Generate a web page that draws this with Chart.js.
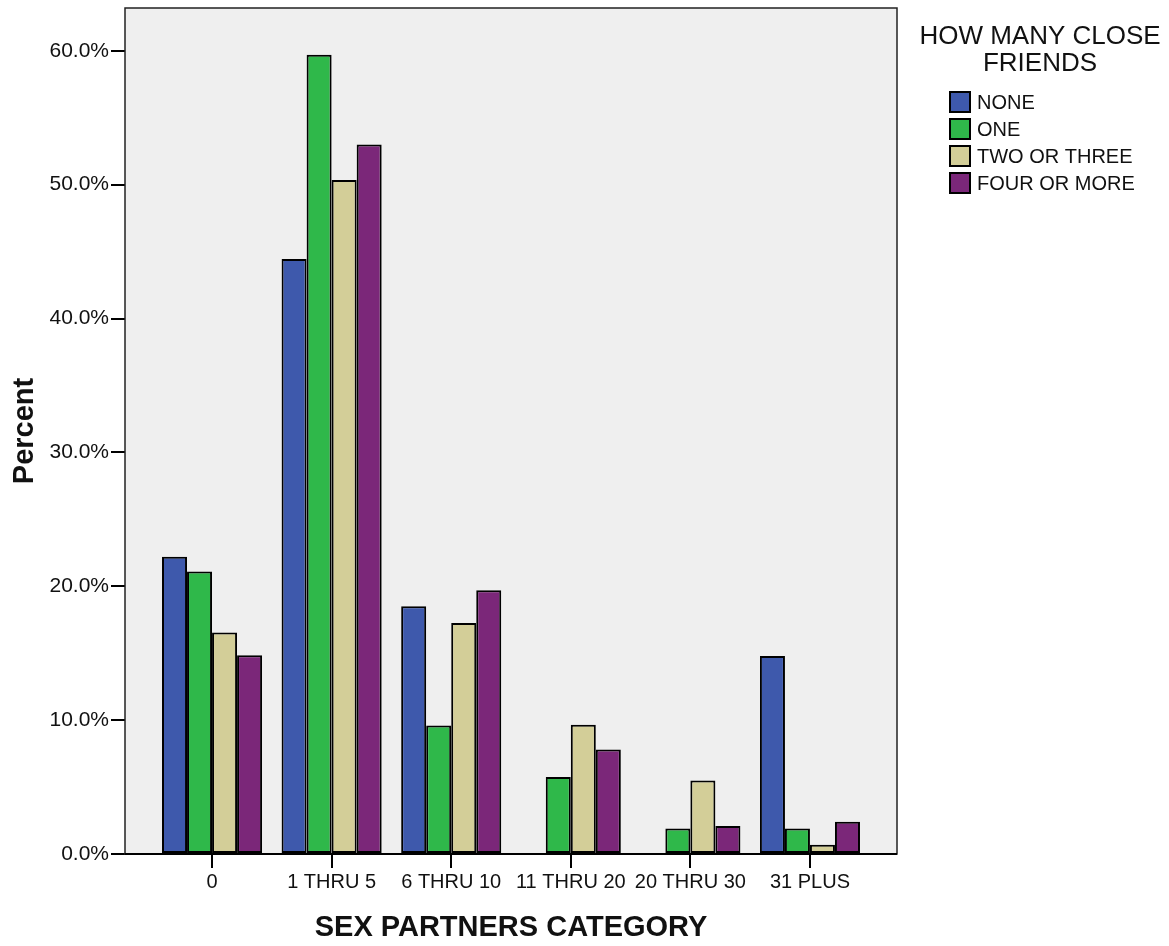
<!DOCTYPE html>
<html>
<head>
<meta charset="utf-8">
<script src="https://cdn.jsdelivr.net/npm/chart.js@4/dist/chart.umd.min.js"></script>
<style>
  html, body { margin: 0; padding: 0; background: #ffffff; }
  #wrap { width: 1169px; height: 946px; position: relative; }
</style>
</head>
<body>
<div id="wrap"><canvas id="c" width="1169" height="946"></canvas></div>
<script>
// ---- data ----
const categories = ['0', '1 THRU 5', '6 THRU 10', '11 THRU 20', '20 THRU 30', '31 PLUS'];
const seriesNames = ['NONE', 'ONE', 'TWO OR THREE', 'FOUR OR MORE'];
const noneValues = [22.2, 44.45, 18.5, 0, 0, 14.8];
const oneValues = [21.1, 59.7, 9.6, 5.75, 1.9, 1.9];
const twoThreeValues = [16.55, 50.35, 17.25, 9.65, 5.5, 0.7];
const fourMoreValues = [14.85, 53.0, 19.7, 7.8, 2.1, 2.4];
const yTickValues = [0, 10, 20, 30, 40, 50, 60];
const legendTitle = ['HOW MANY CLOSE', 'FRIENDS'];
const xTitle = 'SEX PARTNERS CATEGORY';
const yTitle = 'Percent';

const colors = ['#3E59AC', '#2FB84A', '#D3CE98', '#7B2779'];
const allValues = [noneValues, oneValues, twoThreeValues, fourMoreValues];

const datasets = seriesNames.map((name, i) => ({
  label: name,
  data: allValues[i].map((v, j) => ({ x: j, y: v })),
  backgroundColor: colors[i],
  borderColor: '#000000',
  borderWidth: 2,
  borderSkipped: false,
  barPercentage: 1.0,
  categoryPercentage: 0.837
}));

const FONT = "'Liberation Sans', Arial, sans-serif";

const framePlugin = {
  id: 'frame',
  beforeDatasetsDraw(chart) {
    const a = chart.chartArea, ctx = chart.ctx;
    ctx.save();
    ctx.fillStyle = '#EFEFEF';
    ctx.fillRect(a.left, a.top, a.right - a.left, a.bottom - a.top);
    ctx.restore();
  },
  afterDatasetsDraw(chart) {
    const a = chart.chartArea, ctx = chart.ctx;
    ctx.save();
    ctx.strokeStyle = '#222222';
    ctx.lineWidth = 1.5;
    ctx.strokeRect(a.left, a.top, a.right - a.left, a.bottom - a.top);
    ctx.strokeStyle = '#000000';
    ctx.lineWidth = 2;
    ctx.beginPath();
    ctx.moveTo(a.left, a.bottom);
    ctx.lineTo(a.right, a.bottom);
    ctx.stroke();
    ctx.restore();
  }
};

const legendPlugin = {
  id: 'customLegend',
  afterDraw(chart) {
    const ctx = chart.ctx;
    ctx.save();
    ctx.fillStyle = '#111111';
    ctx.textAlign = 'center';
    ctx.textBaseline = 'middle';
    ctx.font = '26px ' + FONT;
    ctx.fillText(legendTitle[0], 1040, 37);
    ctx.fillText(legendTitle[1], 1040, 64);
    ctx.textAlign = 'left';
    ctx.font = '20px ' + FONT;
    chart.data.datasets.forEach((ds, i) => {
      const cy = 102 + i * 27;
      ctx.fillStyle = ds.backgroundColor;
      ctx.fillRect(950, cy - 10, 20, 20);
      ctx.strokeStyle = '#000000';
      ctx.lineWidth = 2;
      ctx.strokeRect(950, cy - 10, 20, 20);
      ctx.fillStyle = '#111111';
      ctx.fillText(ds.label, 977, cy + 1);
    });
    ctx.restore();
  }
};

new Chart(document.getElementById('c'), {
  type: 'bar',
  data: { datasets },
  plugins: [framePlugin, legendPlugin],
  options: {
    responsive: false,
    animation: false,
    layout: { padding: { top: 8, right: 272, left: 0, bottom: 0 } },
    plugins: {
      legend: { display: false },
      tooltip: { enabled: false }
    },
    scales: {
      x: {
        type: 'linear',
        offset: false,
        min: -0.728,
        max: 5.728,
        afterBuildTicks(scale) { scale.ticks = categories.map((c, i) => ({ value: i })); },
        afterFit(scale) { scale.height = 92; scale.paddingLeft = 0; scale.paddingRight = 0; },
        grid: { display: true, offset: false, drawOnChartArea: false, drawTicks: true, tickLength: 14, color: '#000000', lineWidth: 2 },
        border: { display: false },
        ticks: {
          autoSkip: false,
          maxRotation: 0,
          padding: 2,
          color: '#111111',
          font: { family: FONT, size: 20 },
          callback: (v) => categories[v]
        },
        title: {
          display: true,
          text: xTitle,
          color: '#111111',
          font: { family: FONT, size: 29, weight: 'bold', lineHeight: 1.2 },
          padding: { top: 0, bottom: 1 }
        }
      },
      y: {
        min: 0,
        max: 63.2,
        afterBuildTicks(scale) { scale.ticks = yTickValues.map(v => ({ value: v })); },
        afterFit(scale) { scale.width = 125; scale.paddingTop = 0; scale.paddingBottom = 0; },
        grid: { display: true, drawOnChartArea: false, drawTicks: true, tickLength: 14, color: '#000000', lineWidth: 2 },
        border: { display: false },
        ticks: {
          padding: 2,
          color: '#111111',
          font: { family: FONT, size: 21 },
          callback: (v) => v.toFixed(1) + '%'
        },
        title: {
          display: true,
          text: yTitle,
          color: '#111111',
          font: { family: FONT, size: 29, weight: 'bold', lineHeight: 1.2 },
          padding: { top: 8, bottom: 0 }
        }
      }
    }
  }
});
</script>
</body>
</html>
